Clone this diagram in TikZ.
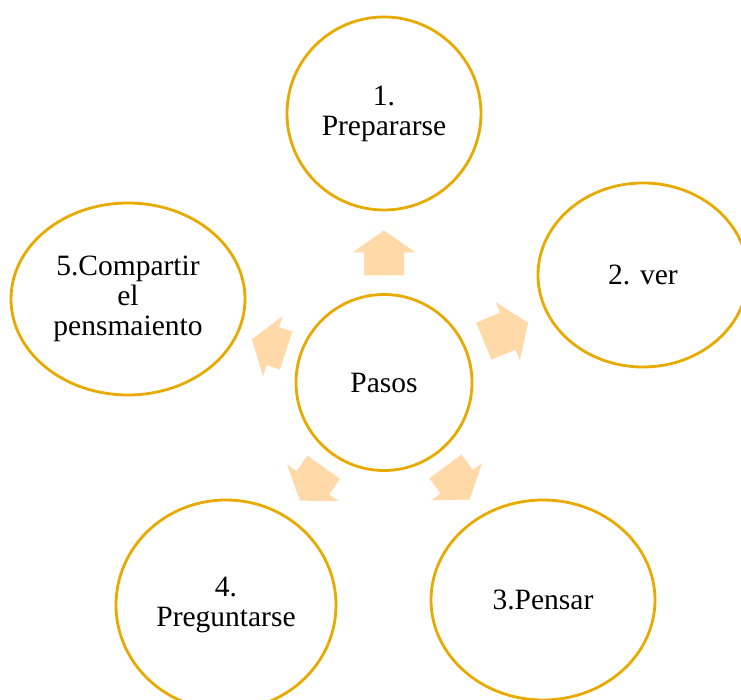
\documentclass[tikz,border=0pt]{standalone}
\usepackage{fontspec}
\setmainfont{Liberation Serif}
\usetikzlibrary{shapes.geometric}
\definecolor{ring}{RGB}{232,170,0}
\definecolor{arrfill}{RGB}{255,218,168}
\begin{document}
\begin{tikzpicture}[x=1pt,y=1pt,
  bubble/.style={ellipse, draw=ring, line width=2.8pt, inner sep=0pt, align=center,
    font=\fontsize{29.5}{30}\selectfont},
  blockarrow/.style={fill=arrfill, draw=none}]
\useasboundingbox (0,0) rectangle (741,700);
% centre
\node[bubble, minimum width=176, minimum height=176] (c) at (384,317.5) {Pasos};
% outer bubbles
\node[bubble, minimum width=194, minimum height=193] (n1) at (384,586.5) {1.\\Prepararse};
\node[bubble, minimum width=210, minimum height=184] (n2) at (643,425) {2. ver};
\node[bubble, minimum width=224, minimum height=200] (n3) at (543,100) {3.Pensar};
\node[bubble, minimum width=220, minimum height=210] (n4) at (226,95) {4.\\Preguntarse};
\node[bubble, minimum width=234, minimum height=192] (n5) at (128,401) {5.Compartir\\el\\pensmaiento};
% block arrows
\foreach \a/\ra/\rb in {90/107/152, 22.5/108/156, -53.8/104/145, -125.4/104/145, 161.9/103/139}{
  \begin{scope}[shift={(c.center)}, rotate=\a]
    \fill[blockarrow] (\ra,-20) -- (\rb-22,-20) -- (\rb-22,-31.5) -- (\rb,0)
      -- (\rb-22,31.5) -- (\rb-22,20) -- (\ra,20) -- cycle;
  \end{scope}
}
\end{tikzpicture}
\end{document}
